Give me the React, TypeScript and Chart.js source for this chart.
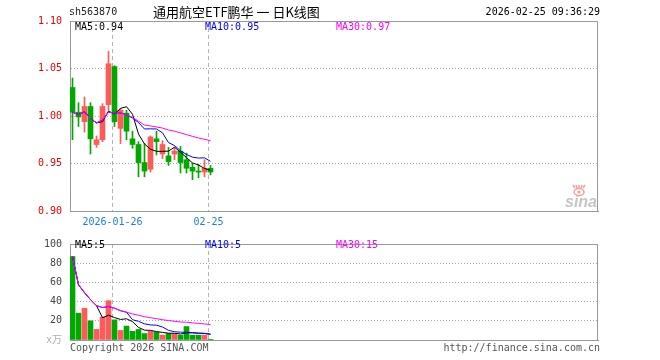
import React, { useEffect, useRef } from 'react';
import { Chart, registerables } from 'chart.js';

Chart.register(...registerables);

// ---- data ----
const dates = [
  '2026-01-15', '2026-01-16', '2026-01-19', '2026-01-20', '2026-01-21', '2026-01-22', '2026-01-23',
  '2026-01-26', '2026-01-27', '2026-01-28', '2026-01-29', '2026-01-30',
  '2026-02-02', '2026-02-03', '2026-02-04', '2026-02-05', '2026-02-06',
  '2026-02-09', '2026-02-10', '2026-02-11', '2026-02-12', '2026-02-13',
  '2026-02-24', '2026-02-25',
];
const opens = [1.030, 1.004, 0.994, 1.010, 0.970, 0.975, 1.012, 1.052, 0.987, 1.003, 0.976, 0.970,
  0.951, 0.944, 0.976, 0.960, 0.958, 0.960, 0.963, 0.954, 0.946, 0.942, 0.941, 0.945];
const closes = [1.004, 0.999, 1.010, 0.976, 0.975, 1.010, 1.055, 0.994, 1.006, 0.984, 0.970, 0.951,
  0.942, 0.978, 0.973, 0.970, 0.952, 0.963, 0.951, 0.945, 0.942, 0.941, 0.945, 0.941];
const highs = [1.040, 1.014, 1.020, 1.014, 0.979, 1.013, 1.068, 1.053, 1.008, 1.006, 0.984, 0.973,
  0.971, 0.979, 0.984, 0.974, 0.967, 0.967, 0.968, 0.961, 0.950, 0.949, 0.954, 0.948];
const lows = [0.975, 0.989, 0.983, 0.960, 0.967, 0.973, 1.006, 0.989, 0.971, 0.975, 0.966, 0.936,
  0.936, 0.941, 0.959, 0.955, 0.948, 0.954, 0.940, 0.940, 0.933, 0.935, 0.936, 0.938];
const volumes = [87, 28, 33, 20, 11, 24, 41, 21, 10, 14.5, 9, 11, 6.7, 9, 8, 5, 6.7, 6.5, 5, 14, 5, 5, 5, 0.7];

const priceTicks = [0.9, 0.95, 1.0, 1.05, 1.1];
const volumeTicks = [0, 20, 40, 60, 80, 100];
const dateTickIndex = [7, 23];
const dateTickLabels = ['2026-01-26', '02-25'];

const priceLegend = ['MA5:0.94', 'MA10:0.95', 'MA30:0.97'];
const volumeLegend = ['MA5:5', 'MA10:5', 'MA30:15'];

// ---- styling ----
const UP = '#ff5a5a';
const DOWN = '#00a800';
const MA_COLORS = ['#000000', '#0000ff', '#ff00ff'];
const MA_PERIODS = [5, 10, 30];
const MONO = '"DejaVu Sans Mono", "Noto Sans CJK SC", monospace';
const X_MIN = -0.4167;
const X_MAX = 87.5833;

function movingAvg(arr: number[], n: number): number[] {
  return arr.map((_, i) => {
    const s = Math.max(0, i - n + 1);
    let sum = 0;
    for (let k = s; k <= i; k++) sum += arr[k];
    return sum / (i - s + 1);
  });
}

const isUp = closes.map((c, i) => c >= opens[i]);
const candleColors = isUp.map((u) => (u ? UP : DOWN));

function xScale(showLabels: boolean, height: number) {
  return {
    type: 'linear' as const,
    min: X_MIN,
    max: X_MAX,
    offset: false,
    afterBuildTicks: (axis: any) => {
      axis.ticks = dateTickIndex.map((i) => ({ value: i - 1 / 3 }));
    },
    afterFit: (axis: any) => {
      axis.height = height;
    },
    ticks: {
      display: showLabels,
      autoSkip: false,
      maxRotation: 0,
      padding: 5,
      color: '#1a7fd4',
      font: { family: MONO, size: 10 },
      callback: (_v: any, i: number) => dateTickLabels[i],
    },
    grid: { color: '#b4b4b4', drawTicks: false, lineWidth: 1, offset: false },
    border: { display: true, color: '#999999', width: 1, dash: [4, 3] },
  };
}

function framePlugin(id: string) {
  return {
    id,
    beforeDatasetsDraw(chart: any) {
      const { ctx, chartArea } = chart;
      ctx.save();
      ctx.strokeStyle = '#999999';
      ctx.lineWidth = 1;
      ctx.setLineDash([]);
      const l = Math.round(chartArea.left) + 0.5;
      const t = Math.round(chartArea.top) + 0.5;
      const r = Math.round(chartArea.right) - 0.5;
      const b = Math.round(chartArea.bottom) + 0.5;
      ctx.beginPath();
      ctx.moveTo(l, t);
      ctx.lineTo(r, t);
      ctx.lineTo(r, b);
      ctx.lineTo(l, b);
      ctx.closePath();
      ctx.stroke();
      ctx.restore();
    },
  };
}

function legendDraw(ctx: CanvasRenderingContext2D, texts: string[], y: number) {
  const xs = [75, 205, 336];
  ctx.font = `10px ${MONO}`;
  ctx.textAlign = 'left';
  ctx.textBaseline = 'middle';
  texts.forEach((t, i) => {
    ctx.fillStyle = MA_COLORS[i];
    ctx.fillText(t, xs[i], y);
  });
}

export default function App() {
  const priceRef = useRef<HTMLCanvasElement>(null);
  const volRef = useRef<HTMLCanvasElement>(null);

  useEffect(() => {
    const maPrice = MA_PERIODS.map((p) => movingAvg(closes, p));
    const maVol = MA_PERIODS.map((p) => movingAvg(volumes, p));

    const priceTextPlugin = {
      id: 'priceText',
      afterDraw(chart: any) {
        const ctx = chart.ctx as CanvasRenderingContext2D;
        ctx.save();
        ctx.textBaseline = 'middle';
        ctx.font = `10px ${MONO}`;
        ctx.fillStyle = '#222222';
        ctx.textAlign = 'left';
        ctx.fillText('sh563870', 69, 12);
        ctx.font = '13px "Noto Sans CJK SC", "DejaVu Sans Mono"';
        ctx.fillStyle = '#000000';
        ctx.fillText('通用航空ETF鹏华 一 日K线图', 153, 12);
        ctx.font = `10px ${MONO}`;
        ctx.textAlign = 'right';
        ctx.fillText('2026-02-25 09:36:29', 600, 12);
        legendDraw(ctx, priceLegend, 27);
        // sina logo
        ctx.textAlign = 'right';
        ctx.textBaseline = 'alphabetic';
        ctx.font = 'italic bold 16px "Liberation Sans"';
        ctx.fillStyle = '#c6c6c6';
        ctx.fillText('sina', 597, 207);
        ctx.strokeStyle = '#f2a0a0';
        ctx.fillStyle = '#f2a0a0';
        ctx.lineWidth = 1.5;
        ctx.beginPath();
        ctx.ellipse(579, 192, 5, 3.5, 0, 0, Math.PI * 2);
        ctx.stroke();
        ctx.beginPath();
        ctx.arc(579, 192, 1.6, 0, Math.PI * 2);
        ctx.fill();
        for (let k = -2; k <= 2; k++) {
          ctx.beginPath();
          ctx.moveTo(579 + k * 2, 188);
          ctx.lineTo(579 + k * 3, 185);
          ctx.stroke();
        }
        ctx.restore();
      },
    };

    const volTextPlugin = {
      id: 'volText',
      afterDraw(chart: any) {
        const ctx = chart.ctx as CanvasRenderingContext2D;
        ctx.save();
        legendDraw(ctx, volumeLegend, 15.5);
        ctx.font = `10px ${MONO}`;
        ctx.fillStyle = '#555555';
        ctx.textBaseline = 'middle';
        ctx.textAlign = 'left';
        ctx.fillText('Copyright 2026 SINA.COM', 70, 118);
        ctx.textAlign = 'right';
        ctx.fillText('http://finance.sina.com.cn', 600, 118);
        ctx.restore();
      },
    };

    const priceChart = new Chart(priceRef.current as HTMLCanvasElement, {
      type: 'bar',
      data: {
        datasets: [
          ...MA_PERIODS.map((p, k) => ({
            type: 'line' as const,
            label: `MA${p}`,
            data: maPrice[k].map((v, i) => ({ x: i, y: v })),
            borderColor: MA_COLORS[k],
            borderWidth: 1,
            pointRadius: 0,
            tension: 0,
            fill: false,
            order: 2 - k,
          })),
          {
            type: 'bar' as const,
            label: 'body',
            data: closes.map((c, i) => ({ x: i, y: [opens[i], c] })) as any,
            backgroundColor: candleColors,
            borderWidth: 0,
            barThickness: 5,
            minBarLength: 1,
            grouped: false,
            order: 3,
          },
          {
            type: 'bar' as const,
            label: 'wick',
            data: highs.map((h, i) => ({ x: i, y: [lows[i], h] })) as any,
            backgroundColor: candleColors,
            borderWidth: 0,
            barThickness: 1,
            grouped: false,
            order: 4,
          },
        ],
      },
      options: {
        animation: false,
        responsive: false,
        events: [],
        layout: { padding: { top: 21, right: 62, left: 0, bottom: 0 } },
        plugins: { legend: { display: false }, tooltip: { enabled: false } },
        scales: {
          x: xScale(true, 19),
          y: {
            type: 'linear',
            min: 0.9,
            max: 1.1,
            afterBuildTicks: (axis: any) => {
              axis.ticks = priceTicks.map((v) => ({ value: v }));
            },
            afterFit: (axis: any) => {
              axis.width = 70;
            },
            ticks: {
              padding: 8,
              color: '#ee0000',
              font: { family: MONO, size: 10 },
              callback: (v: any) => Number(v).toFixed(2),
            },
            grid: { color: '#aaaaaa', drawTicks: false },
            border: { display: true, color: '#999999', width: 1, dash: [1, 2] },
          },
        },
      } as any,
      plugins: [framePlugin('priceFrame'), priceTextPlugin],
    });

    const volChart = new Chart(volRef.current as HTMLCanvasElement, {
      type: 'bar',
      data: {
        datasets: [
          ...MA_PERIODS.map((p, k) => ({
            type: 'line' as const,
            label: `VMA${p}`,
            data: maVol[k].map((v, i) => ({ x: i, y: v })),
            borderColor: MA_COLORS[k],
            borderWidth: 1,
            pointRadius: 0,
            tension: 0,
            fill: false,
            order: 2 - k,
          })),
          {
            type: 'bar' as const,
            label: 'volume',
            data: volumes.map((v, i) => ({ x: i, y: v })),
            backgroundColor: candleColors,
            borderWidth: 0,
            barThickness: 5,
            grouped: false,
            order: 3,
          },
        ],
      },
      options: {
        animation: false,
        responsive: false,
        events: [],
        layout: { padding: { top: 10, right: 62, left: 0, bottom: 0 } },
        plugins: { legend: { display: false }, tooltip: { enabled: false } },
        scales: {
          x: xScale(false, 20),
          y: {
            type: 'linear',
            min: 0,
            max: 100,
            afterBuildTicks: (axis: any) => {
              axis.ticks = volumeTicks.map((v) => ({ value: v }));
            },
            afterFit: (axis: any) => {
              axis.width = 70;
            },
            ticks: {
              padding: 8,
              color: (c: any) => (c.tick && c.tick.value === 0 ? '#b0b0b0' : '#444444'),
              font: { family: MONO, size: 10 },
              callback: (v: any) => (Number(v) === 0 ? 'x万' : String(v)),
            },
            grid: { color: '#aaaaaa', drawTicks: false },
            border: { display: true, color: '#999999', width: 1, dash: [1, 2] },
          },
        },
      } as any,
      plugins: [framePlugin('volFrame'), volTextPlugin],
    });

    return () => {
      priceChart.destroy();
      volChart.destroy();
    };
  }, []);

  return (
    <div style={{ position: 'absolute', left: 0, top: 0, width: 660, height: 360, background: '#ffffff' }}>
      <canvas ref={priceRef} width={660} height={230} style={{ position: 'absolute', left: 0, top: 0, display: 'block' }} />
      <canvas ref={volRef} width={660} height={130} style={{ position: 'absolute', left: 0, top: 230, display: 'block' }} />
    </div>
  );
}
